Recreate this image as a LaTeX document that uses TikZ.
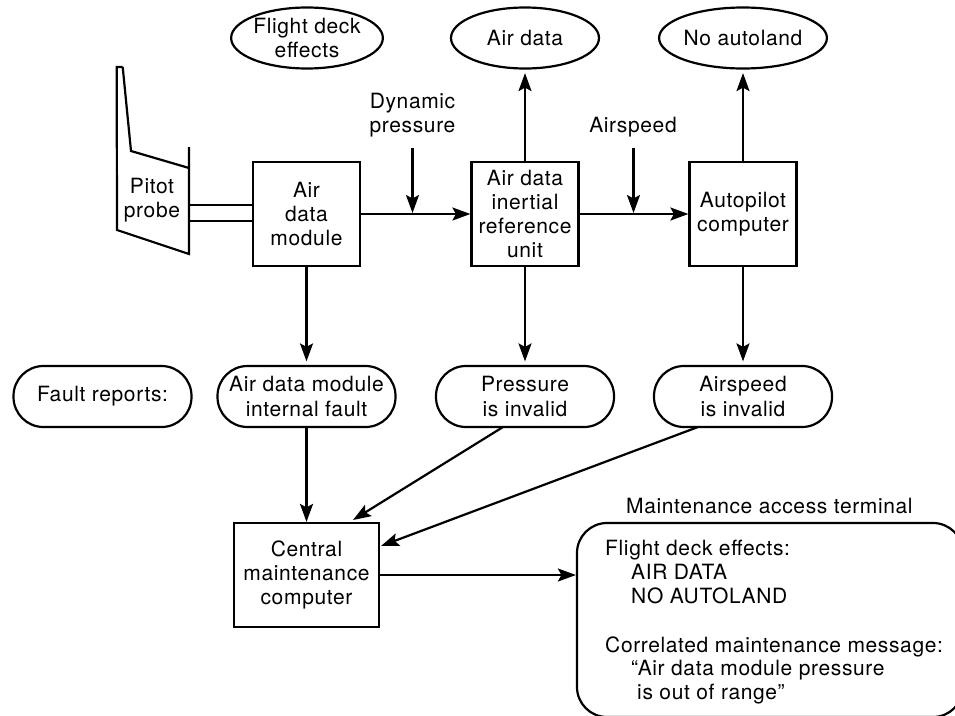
\documentclass[tikz,border=0pt]{standalone}
\usepackage{fontspec}
\setmainfont[LetterSpace=3]{TeX Gyre Heros}
\usetikzlibrary{shapes.geometric,arrows.meta}
\tikzset{
 x=1pt,y=-1pt,
 every node/.style={font=\fontsize{21}{24.2}\selectfont,align=center,inner sep=0pt},
 ln/.style={line width=2.2pt},
 boxn/.style={ln,draw,minimum width=107pt,minimum height=104pt},
 oval/.style={ln,draw,ellipse,minimum width=148pt,minimum height=61pt},
 pill/.style={ln,draw,rounded corners=30pt,minimum width=178pt,minimum height=61pt},
 arr/.style={ln,-{Stealth[length=18pt,width=13pt,inset=3.5pt]}},
 gap/.style={shorten >=3.5pt}
}
\begin{document}
\begin{tikzpicture}
\useasboundingbox (0,0) rectangle (955,715);
\coordinate (p1) at (116.7,67);
\coordinate (p2) at (122.7,67);
\coordinate (p3) at (131,151);
\coordinate (p4) at (189,168);
\coordinate (p5) at (189,147);
\coordinate (p6) at (189,254);
\coordinate (p7) at (117,230);
\draw[ln,line join=miter] (p2)--(p3)--(p4);
\draw[ln] (p5)--(p6)--(p7)--(p1)--(p2);
\node (pitot) at (152,200) {Pitot\\probe};
\node[boxn] (adm) at (306.5,214) {Air\\data\\module};
\node[boxn] (adiru) at (525,214) {Air data\\inertial\\reference\\unit};
\node[boxn] (apc) at (743,214) {Autopilot\\computer};
\node[oval] (fde) at (307,38) {Flight deck\\effects};
\node[oval] (airdata) at (525,38) {Air data};
\node[oval] (noauto) at (743,38) {No autoland};
\node[pill] (fault) at (102.5,396.5) {Fault reports:};
\node[pill] (admf) at (306.5,396.5) {Air data module\\internal fault};
\node[pill] (pinv) at (525,396.5) {Pressure\\is invalid};
\node[pill] (sinv) at (743,396.5) {Airspeed\\is invalid};
\node[boxn,minimum width=145pt] (cmc) at (306.5,575) {Central\\maintenance\\computer};
\node[ln,draw,rounded corners=30pt,minimum width=386pt,minimum height=194pt] (mat) at (770,620) {};
\node[anchor=base west] (mattitle) at (626,513) {Maintenance access terminal};
\node[anchor=base west,align=left] (mattext) at (605,555) {\strut Flight deck effects:};
\node[anchor=base west] (m2) at (631,579.5) {AIR DATA};
\node[anchor=base west] (m3) at (631,603.5) {NO AUTOLAND};
\node[anchor=base west] (m4) at (605,652) {Correlated maintenance message:};
\node[anchor=base west] (m5) at (631,675.5) {“Air data module pressure};
\node[anchor=base west] (m6) at (637,699) {is out of range”};
\node (dyn) at (412.5,115.5) {Dynamic\\pressure};
\node (asp) at (633,127) {Airspeed};
\coordinate (dyntop) at (412.5,148);
\coordinate (dynend) at (412.5,213);
\coordinate (asptop) at (633.5,148);
\coordinate (aspend) at (633.5,213);
\coordinate (pstart) at (503,427);
\coordinate (sstart) at (698,427);
\coordinate (pend) at (353,520);
\coordinate (send) at (381,546);
\draw[ln] (adm.west |- 0,205) -- (p6 |- 0,205);
\draw[ln] (adm.west |- 0,221) -- (p6 |- 0,221);
\draw[arr] (adm.east) -- (adiru.west);
\draw[arr] (adiru.east) -- (apc.west);
\draw[arr] (dyntop) -- (dynend);
\draw[arr] (asptop) -- (aspend);
\draw[arr,gap] (adiru.north) -- (airdata.south);
\draw[arr,gap] (apc.north) -- (noauto.south);
\draw[arr,gap] (adm.south) -- (admf.north);
\draw[arr,gap] (adiru.south) -- (pinv.north);
\draw[arr,gap] (apc.south) -- (sinv.north);
\draw[arr] (admf.south) -- (cmc.north);
\draw[arr] (pstart) -- (pend);
\draw[arr] (sstart) -- (send);
\draw[arr] (cmc.east) -- (mat.west |- cmc.east);
\end{tikzpicture}
\end{document}
